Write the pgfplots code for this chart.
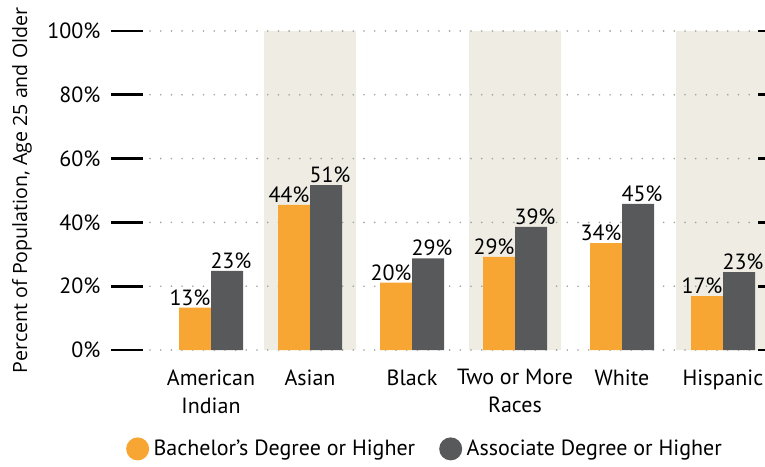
\documentclass[border=0pt]{standalone}
\usepackage{fontspec}
\setmainfont{PT Sans}
\newfontfamily\ylabfont{Open Sans}
\usepackage{pgfplots}
\pgfplotsset{compat=1.18}
\definecolor{orng}{RGB}{248,166,51}
\definecolor{dgray}{RGB}{88,89,91}
\definecolor{beige}{RGB}{239,236,228}
\definecolor{dotgray}{RGB}{160,160,160}
\newcommand{\chartfont}{\fontsize{22}{26}\selectfont}
\begin{document}
\begin{tikzpicture}
\begin{axis}[
  set layers,
  at={(0,0)}, anchor=south west,
  width=615pt, height=319pt, scale only axis,
  xmin=150, xmax=765, ymin=0, ymax=100,
  axis line style={draw=none},
  xtick={211,310,412,515,622,723},
  xticklabels={American\\[2pt]Indian, Asian, Black, Two or More\\[2pt]Races, White, Hispanic},
  xticklabel style={align=center, font=\chartfont, anchor=north, yshift=16pt},
  xtick style={draw=none},
  ytick={0,20,40,60,80,100},
  yticklabels={0\%,20\%,40\%,60\%,80\%,100\%},
  yticklabel style={font=\chartfont, anchor=east, xshift=-14pt},
  major tick length=32pt, tick align=outside,
  ytick style={draw=black, line width=2.7pt, xshift=-7pt},
  ymajorgrids,
  grid style={dotgray, line width=1.8pt, line cap=round, dash pattern=on 0pt off 10.7pt},
  every axis y label/.style={at={(axis description cs:-0.208,0.5)}, rotate=90, anchor=center},
  ylabel={Percent of Population, Age 25 and Older},
  label style={font=\ylabfont\fontsize{19.6}{22}\selectfont},
  legend style={at={(axis description cs:-0.044,-0.31)}, anchor=west, draw=none, fill=none,
    legend columns=2, font=\chartfont, /tikz/every even column/.append style={column sep=22pt}},
  legend image code/.code={\fill[#1] (0pt,0pt) circle (11.5pt); \path (14pt,0pt);},
]
\addplot[ybar, bar width=92, bar shift=0pt, fill=beige, draw=none, on layer=axis background, forget plot]
  coordinates {(310,100) (515,100) (722,100)};
\addplot[ybar, bar width=32pt, bar shift=-16pt, fill=orng, draw=none,
  point meta=explicit symbolic, nodes near coords={\pgfplotspointmeta\%},
  every node near coord/.append style={font=\chartfont, anchor=south, xshift=-21pt, inner sep=2pt, text=black}]
  table[meta=lab] {
x y lab
211 13.3 13
310 45.5 44
412 21.1 20
515 29.2 29
622 33.5 34
723 16.9 17
};
\addplot[ybar, bar width=32pt, bar shift=16pt, fill=dgray, draw=none,
  point meta=explicit symbolic, nodes near coords={\pgfplotspointmeta\%},
  every node near coord/.append style={font=\chartfont, anchor=south, xshift=20pt, inner sep=2pt, text=black}]
  table[meta=lab] {
x y lab
211 24.8 23
310 51.7 51
412 28.7 29
515 38.6 39
622 45.8 45
723 24.4 23
};
\legend{Bachelor’s Degree or Higher, Associate Degree or Higher}
\end{axis}
\pgfresetboundingbox
\path (-150pt,-116pt) rectangle (615pt,350pt);
\end{tikzpicture}
\end{document}
